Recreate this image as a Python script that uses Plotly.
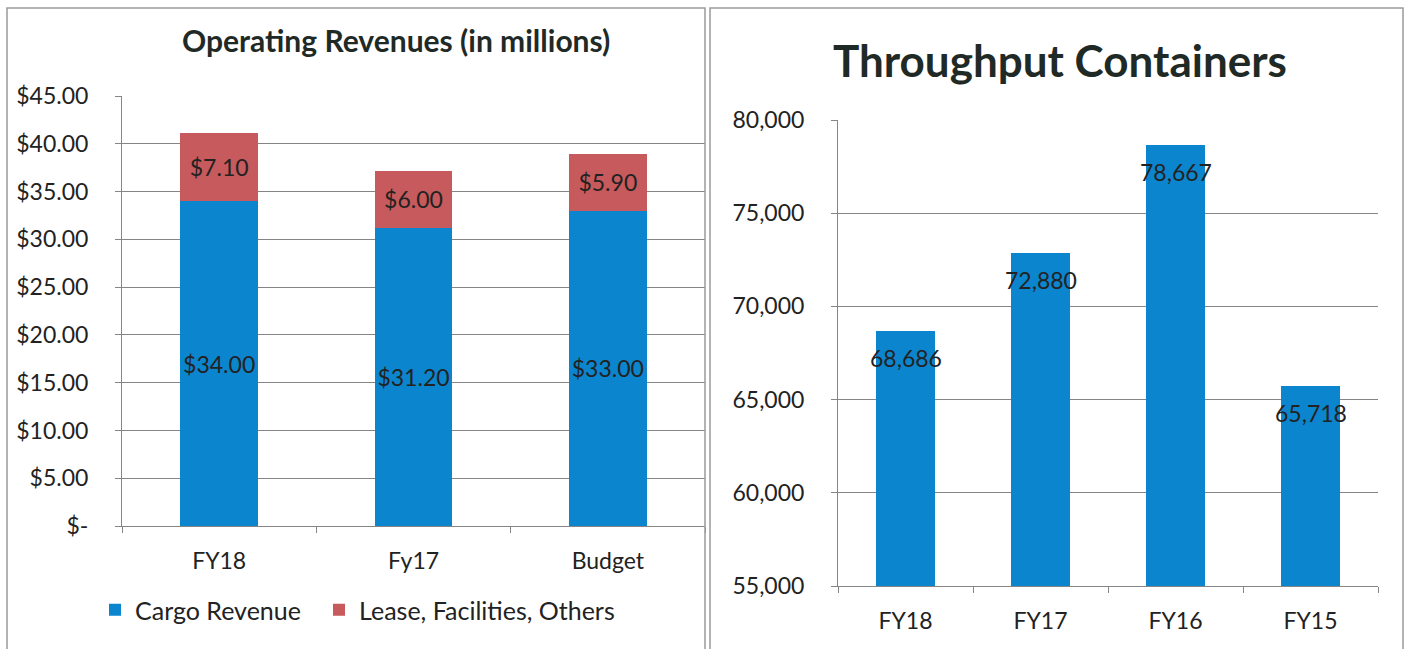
import plotly.graph_objects as go

W, H = 1406, 649

# ---- data ----
rev_categories = ["FY18", "Fy17", "Budget"]
cargo_revenue = [34.00, 31.20, 33.00]
lease_revenue = [7.10, 6.00, 5.90]
rev_tickvals = [0, 5, 10, 15, 20, 25, 30, 35, 40, 45]
rev_ticktext = ["$-", "$5.00", "$10.00", "$15.00", "$20.00", "$25.00",
                "$30.00", "$35.00", "$40.00", "$45.00"]

tp_categories = ["FY18", "FY17", "FY16", "FY15"]
tp_values = [68686, 72880, 78667, 65718]

BLUE = "#0B86CE"
RED = "#C65A5C"
TXT = "#222222"
GRID = "#858585"
FONT = "Lato"

def px(x):
    return x / W

def py(y):
    return 1 - y / H

fig = go.Figure()

fig.add_trace(go.Bar(
    x=rev_categories, y=cargo_revenue, name="Cargo Revenue",
    marker=dict(color=BLUE, line=dict(width=0)), width=0.40,
    text=[f"${v:.2f}" for v in cargo_revenue], textposition="inside",
    insidetextanchor="middle", constraintext="none", textangle=0,
    textfont=dict(family=FONT, size=23, color=TXT),
    xaxis="x", yaxis="y", legend="legend",
))
fig.add_trace(go.Bar(
    x=rev_categories, y=lease_revenue, name="Lease, Facilities, Others",
    marker=dict(color=RED, line=dict(width=0)), width=0.40,
    text=[f"${v:.2f}" for v in lease_revenue], textposition="inside",
    insidetextanchor="middle", constraintext="none", textangle=0,
    textfont=dict(family=FONT, size=23, color=TXT),
    xaxis="x", yaxis="y", legend="legend2",
))
fig.add_trace(go.Bar(
    x=tp_categories, y=tp_values, name="Throughput",
    marker=dict(color=BLUE, line=dict(width=0)), width=0.44,
    showlegend=False, xaxis="x2", yaxis="y2",
))

annotations = []
for c, v in zip(tp_categories, tp_values):
    annotations.append(dict(
        x=c, y=v, xref="x2", yref="y2", text=f"{v:,}", showarrow=False,
        yshift=-27, font=dict(family=FONT, size=23, color=TXT),
    ))

annotations.append(dict(
    x=px(396), y=py(40), xref="paper", yref="paper",
    text="<b>Operating Revenues (in millions)</b>", showarrow=False,
    font=dict(family=FONT, size=30, color="#1f2a26"),
    xanchor="center", yanchor="middle",
))
annotations.append(dict(
    x=px(1060), y=py(60), xref="paper", yref="paper",
    text="<b>Throughput Containers</b>", showarrow=False,
    font=dict(family=FONT, size=44, color="#1f2a26"),
    xanchor="center", yanchor="middle",
))

shapes = [
    dict(type="rect", xref="paper", yref="paper",
         x0=px(7), x1=px(705), y0=py(660), y1=py(8),
         line=dict(color="#9a9a9a", width=1.5)),
    dict(type="rect", xref="paper", yref="paper",
         x0=px(710), x1=px(1403), y0=py(660), y1=py(8),
         line=dict(color="#9a9a9a", width=1.5)),
]

axis_common = dict(
    showline=True, linecolor=GRID, linewidth=1,
    ticks="outside", tickcolor=GRID, ticklen=6,
    tickfont=dict(family=FONT, size=23, color=TXT),
)

legend_common = dict(
    orientation="h", y=py(610), xanchor="left", yanchor="middle",
    font=dict(family=FONT, size=25, color=TXT),
    bgcolor="rgba(0,0,0,0)", itemwidth=30,
)

fig.update_layout(
    width=W, height=H,
    margin=dict(l=0, r=0, t=0, b=0, pad=0, autoexpand=False),
    paper_bgcolor="white", plot_bgcolor="white",
    barmode="stack",
    font=dict(family=FONT, color=TXT),
    xaxis=dict(domain=[px(122), px(705)], type="category",
               range=[-0.5, 2.5], tickson="boundaries",
               showgrid=False, ticklabelstandoff=14, anchor="y",
               **axis_common),
    yaxis=dict(domain=[py(526), py(96)], range=[0, 45],
               tickvals=rev_tickvals, ticktext=rev_ticktext,
               showgrid=True, gridcolor=GRID, gridwidth=1,
               zeroline=False, ticklabelstandoff=22, anchor="x",
               **axis_common),
    xaxis2=dict(domain=[px(838), px(1378)], type="category",
                range=[-0.5, 3.5], tickson="boundaries",
                showgrid=False, ticklabelstandoff=14, anchor="y2",
                **axis_common),
    yaxis2=dict(domain=[py(586), py(120)], range=[55000, 80000],
                dtick=5000, tickformat=",",
                showgrid=True, gridcolor=GRID, gridwidth=1,
                zeroline=False, ticklabelstandoff=22, anchor="x2",
                **axis_common),
    legend=dict(x=px(95), **legend_common),
    legend2=dict(x=px(319), **legend_common),
    annotations=annotations,
    shapes=shapes,
)

fig.write_html("out.html",
               config={"displayModeBar": False},
               post_script="document.body.style.margin='0';document.body.style.overflow='hidden';")
